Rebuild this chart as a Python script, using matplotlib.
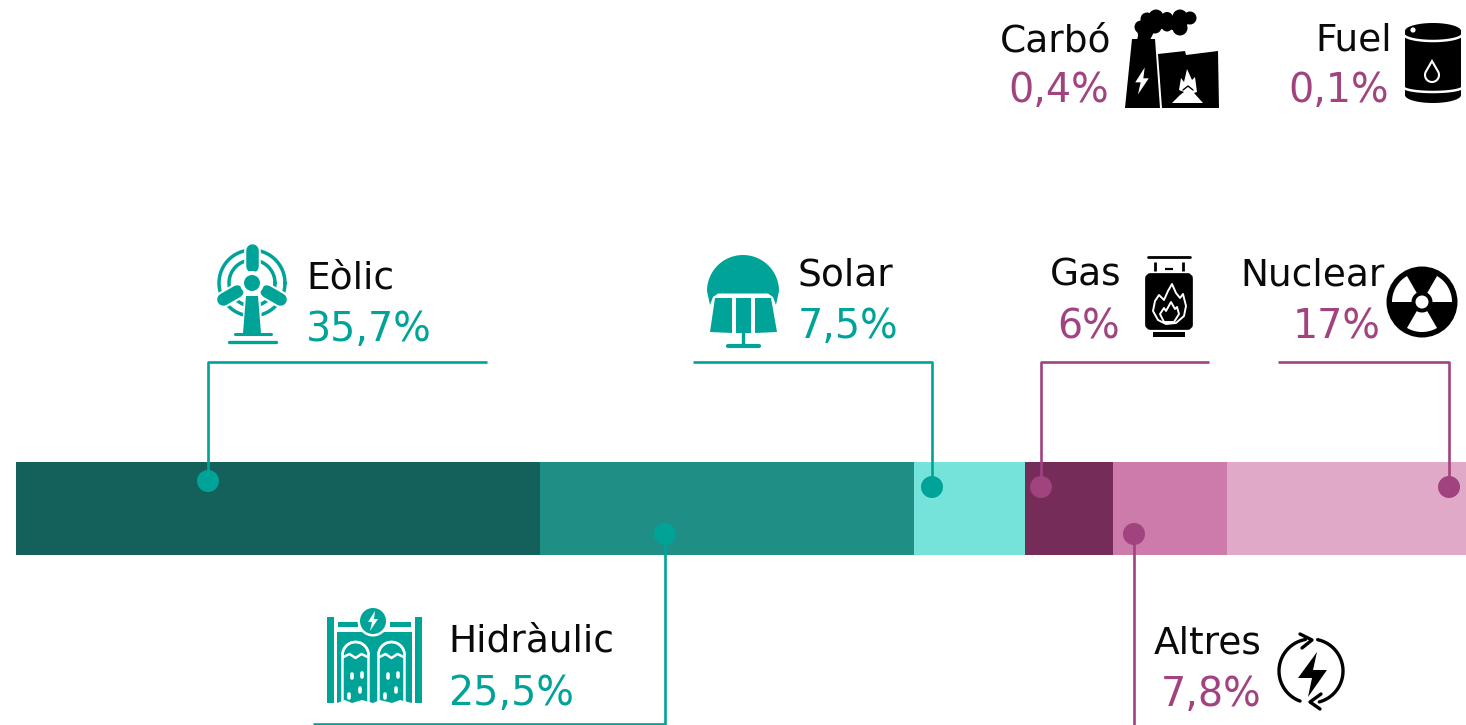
#!/usr/bin/env python3
"""Electricity mix as one stacked bar with call-out labels and icons."""
import matplotlib
matplotlib.use("Agg")
import matplotlib.pyplot as plt
import numpy as np
from matplotlib.patches import Circle, FancyBboxPatch, Polygon, Rectangle

plt.rcParams["font.family"] = ["DejaVu Sans"]

sources = ["Eòlic", "Hidràulic", "Solar", "Gas", "Altres", "Nuclear", "Carbó", "Fuel"]
shares = [35.7, 25.5, 7.5, 6, 7.8, 17, 0.4, 0.1]
share_labels = ["35,7%", "25,5%", "7,5%", "6%", "7,8%", "17%", "0,4%", "0,1%"]
bar_colors = ["#14605B", "#1F8F86", "#76E3DB", "#752C59", "#CC7BAA", "#E0A9C7", "#E0A9C7", "#E0A9C7"]

TEAL = "#00A398"
PLUM = "#A0437F"
BLACK = "#000000"
WHITE = "#FFFFFF"
FS_NAME = 27
FS_VALUE = 28.5

fig = plt.figure(figsize=(14.66, 7.25), dpi=100)

# the bar runs off the right edge of the canvas: 14.68 px per percent from x=16
bar_ax = fig.add_axes([0, 0, 1, 1])
bar_ax.set_xlim(-16 / 14.68, (1466 - 16) / 14.68)
bar_ax.set_ylim(725, 0)
bar_ax.axis("off")
left = 0
for share, color in zip(shares, bar_colors):
    bar_ax.barh(508.5, share, left=left, height=93, color=color, linewidth=0)
    left += share

# overlay in canvas pixels for the call-outs and icons
ax = fig.add_axes([0, 0, 1, 1])
ax.set_xlim(0, 1466)
ax.set_ylim(725, 0)
ax.axis("off")
ax.patch.set_alpha(0)


def arc(cx, cy, r, a0, a1, n=60):
    t = np.radians(np.linspace(a0, a1, n))
    return np.column_stack([cx + r * np.cos(t), cy - r * np.sin(t)])


def poly(pts, color, z=3, **kw):
    ax.add_patch(Polygon(pts, closed=True, facecolor=color, edgecolor="none", zorder=z, **kw))


def line(pts, color, lw=2, z=3, cap="round"):
    pts = np.asarray(pts)
    ax.plot(pts[:, 0], pts[:, 1], color=color, lw=lw, zorder=z,
            solid_capstyle=cap, solid_joinstyle="round")


def disc(x, y, r, color, z=3):
    ax.add_patch(Circle((x, y), r, facecolor=color, edgecolor="none", zorder=z))


def bolt(x, y, s, color, z=5):
    pts = np.array([[2, -10], [-5, 1], [-1, 1], [-3, 10], [5, -2], [1, -2]]) * s + [x, y]
    poly(pts, color, z)


def connector(pts, color):
    line(pts, color, lw=1.9, cap="butt")
    disc(pts[-1][0], pts[-1][1], 11, color, z=4)


def label(name, value, x, y_name, x_value, y_value, ha, color):
    ax.text(x, y_name, name, ha=ha, va="baseline", fontsize=FS_NAME, color="#0A0A0A")
    ax.text(x_value, y_value, value, ha=ha, va="baseline", fontsize=FS_VALUE, color=color)


def icon_wind():
    line(arc(252, 283, 33, 0, 360), TEAL, lw=2.5)
    line(arc(252, 283, 23, 0, 360), TEAL, lw=2.5)
    for a, r_end in zip([90, 210, 330], [33, 33, 33]):
        c, s = np.cos(np.radians(a)), -np.sin(np.radians(a))
        line([[252 + 15 * c, 283 + 15 * s], [252 + r_end * c, 283 + r_end * s]], WHITE, lw=12, z=4)
        line([[252 + 17 * c, 283 + 17 * s], [252 + r_end * c, 283 + r_end * s]], TEAL, lw=9, z=5)
    disc(252, 283, 12, WHITE, z=5)
    disc(252, 283, 8, TEAL, z=6)
    poly([[244, 294], [260, 294], [263, 334], [242, 334]], WHITE, z=4)
    poly([[246, 296], [258, 296], [261, 333], [243, 333]], TEAL, z=5)
    line([[235, 334], [271, 334]], TEAL, lw=2.2, z=6)
    line([[229, 342], [276, 342]], TEAL, lw=2.4, z=6)


def icon_solar():
    dome = np.vstack([arc(743, 291, 36, 180, 0),
                      [[776, 305], [773, 297], [768, 293.5], [718, 293.5], [713, 297], [710, 305]]])
    poly(dome, TEAL)
    poly([[715, 298], [732, 298], [732, 333], [710, 332]], TEAL, z=5)
    poly([[736, 298], [751, 298], [751, 333], [736, 333]], TEAL, z=5)
    poly([[755, 298], [771, 298], [777, 332], [755, 333]], TEAL, z=5)
    line([[743, 333], [743, 345]], TEAL, lw=2.4, z=5)
    line([[728, 345.5], [759, 345.5]], TEAL, lw=3, z=5)


def icon_coal():
    smoke = [[1140, 28], [1148, 18], [1155, 16], [1166, 16], [1180, 15], [1190, 18],
             [1186, 28], [1178, 32], [1167, 28], [1155, 30], [1150, 40], [1137, 40]]
    poly(smoke, BLACK)
    for x, y, r in [(1141, 27, 6.5), (1147, 19, 6.5), (1156, 17, 7.5), (1167, 18, 6), (1180, 17, 7.5),
                    (1190, 18, 6.5), (1180, 28, 7.5), (1167, 26, 5.5), (1155, 27, 6.5), (1144, 32, 6.5)]:
        disc(x, y, r, BLACK)
    poly([[1132, 39], [1155, 39], [1160, 108], [1125, 108]], BLACK)
    poly([[1158, 54], [1185, 51], [1186, 55], [1218, 51], [1219, 108], [1162, 108]], BLACK)
    bolt(1142, 81, 1.35, WHITE)
    poly([[1172, 103], [1180, 95], [1184, 92], [1179, 90], [1181, 78], [1184, 82], [1187, 69],
          [1192, 80], [1195, 77], [1197, 92], [1194, 93], [1203, 103]], WHITE, z=5)
    line([[1183, 90], [1188, 86], [1193, 90]], BLACK, lw=1, z=6)


def icon_fuel():
    t = np.radians(np.linspace(0, 360, 80))
    top = np.column_stack([1433 + 28 * np.cos(t), 31 + 8 * np.sin(t)])
    bottom = np.column_stack([1433 + 28 * np.cos(t), 95 + 8 * np.sin(t)])
    poly(top, BLACK)
    poly(bottom, BLACK)
    ax.add_patch(Rectangle((1405, 31), 56, 64, facecolor=BLACK, edgecolor="none", zorder=3))
    t = np.radians(np.linspace(180, 360, 40))
    for y, depth in [(34, 7), (87, 5)]:
        band = np.column_stack([1433 + 29.5 * np.cos(t), y - depth * np.sin(t)])
        line(band, WHITE, lw=1.8, z=5)
    disc(1413, 30, 2.6, WHITE, z=5)
    drop = np.vstack([[[1432, 61]], arc(1432, 75, 7, 35, -215, n=30)])
    ax.add_patch(Polygon(drop, closed=True, facecolor=BLACK, edgecolor=WHITE, lw=1.5, zorder=5))


def icon_gas():
    line([[1148, 257], [1190, 257]], BLACK, lw=2)
    line([[1155, 262], [1155, 271]], BLACK, lw=2, cap="butt")
    line([[1183, 262], [1183, 271]], BLACK, lw=2, cap="butt")
    line([[1165, 269], [1173, 269]], BLACK, lw=1.6, cap="butt")
    ax.add_patch(FancyBboxPatch((1150, 278), 38, 47, boxstyle="round,pad=0,rounding_size=1",
                                mutation_aspect=1, facecolor=BLACK, edgecolor=BLACK, lw=7, zorder=3))
    ax.add_patch(Rectangle((1153, 332), 32, 5, facecolor=BLACK, edgecolor="none", zorder=3))
    outer = [[1172, 284], [1176, 293], [1180, 298], [1183, 294], [1186, 306], [1184, 316], [1176, 323],
             [1166, 324], [1158, 320], [1153, 311], [1155, 301], [1159, 295], [1164, 300], [1168, 291]]
    ax.add_patch(Polygon(outer, closed=True, facecolor=BLACK, edgecolor=WHITE, lw=1.4, zorder=5,
                         joinstyle="round"))
    inner = [[1171, 302], [1175, 309], [1177, 307], [1179, 314], [1174, 322], [1164, 322],
             [1160, 314], [1164, 308], [1166, 311]]
    ax.add_patch(Polygon(inner, closed=True, facecolor=BLACK, edgecolor=WHITE, lw=1.4, zorder=6,
                         joinstyle="round"))


def icon_nuclear():
    disc(1422, 302, 35.5, BLACK)
    for a in [30, 150, 270]:
        sector = np.vstack([arc(1422, 302, 30, a - 30, a + 30), arc(1422, 302, 10.5, a + 30, a - 30)])
        poly(sector, WHITE, z=4)
    disc(1422, 302, 6.5, WHITE, z=5)


def icon_hydro():
    ax.add_patch(Rectangle((327, 617), 6.5, 86, facecolor=TEAL, edgecolor="none", zorder=3))
    ax.add_patch(Rectangle((415, 617), 6.5, 86, facecolor=TEAL, edgecolor="none", zorder=3))
    ax.add_patch(Rectangle((338, 622), 20, 5, facecolor=TEAL, edgecolor="none", zorder=3))
    ax.add_patch(Rectangle((390, 622), 21, 5, facecolor=TEAL, edgecolor="none", zorder=3))
    poly([[337, 632], [412, 632], [412, 703], [400, 700], [392, 703], [380, 700], [373, 703],
          [362, 700], [352, 703], [345, 700], [337, 703]], TEAL)
    disc(373, 621, 15.5, WHITE, z=4)
    disc(373, 621, 13, TEAL, z=5)
    bolt(373, 621, 1.0, WHITE, z=6)
    for dx in [0, 36]:
        cx = 355.5 + dx
        line(np.vstack([arc(cx, 655, 13, 180, 0), [[cx + 13, 703]]]), WHITE, lw=1.8, z=5)
        line(np.vstack([arc(cx, 655, 13, 0, 180), [[cx - 13, 703]]]), WHITE, lw=1.8, z=5)
        line([[cx - 12, 657], [cx - 6, 654], [cx, 658], [cx + 6, 654], [cx + 12, 657]], WHITE, lw=1.8, z=5)
        for ox, oy in [(-4, 676), (6, 675), (4, 690), (-7, 696)]:
            line([[cx + ox, oy - 2], [cx + ox, oy + 2]], WHITE, lw=2.6, z=6)


def icon_other():
    line(arc(1311, 671, 32, 100, 250), BLACK, lw=2.4)
    line(arc(1311, 671, 32, 78, -75), BLACK, lw=2.4)
    line([[1300, 634], [1312, 640], [1302, 648]], BLACK, lw=2.4)
    line([[1321, 694], [1310, 702], [1320, 709]], BLACK, lw=2.4)
    poly(np.array([[1317, 652], [1298, 678], [1312, 678], [1308, 697], [1327, 670], [1313, 670]]), BLACK)


connector([(487, 362), (208, 362), (208, 481)], TEAL)
connector([(693, 362), (932, 362), (932, 487)], TEAL)
connector([(1209, 362), (1041, 362), (1041, 487)], PLUM)
connector([(1278, 362), (1449, 362), (1449, 487)], PLUM)
connector([(313, 724), (665, 724), (665, 534)], TEAL)
connector([(1134, 726), (1134, 534)], PLUM)

label(sources[0], share_labels[0], 306, 288, 306, 341, "left", TEAL)
label(sources[1], share_labels[1], 448, 652, 448, 705, "left", TEAL)
label(sources[2], share_labels[2], 798, 285, 798, 338, "left", TEAL)
label(sources[3], share_labels[3], 1121, 285, 1120, 338, "right", PLUM)
label(sources[4], share_labels[4], 1262, 653, 1261, 706, "right", PLUM)
label(sources[5], share_labels[5], 1385, 285, 1381, 338, "right", PLUM)
label(sources[6], share_labels[6], 1111, 51, 1109, 102, "right", PLUM)
label(sources[7], share_labels[7], 1392, 50, 1389, 102, "right", PLUM)

icon_wind()
icon_solar()
icon_coal()
icon_fuel()
icon_gas()
icon_nuclear()
icon_hydro()
icon_other()

fig.savefig("out.png", dpi=100)
plt.close(fig)
